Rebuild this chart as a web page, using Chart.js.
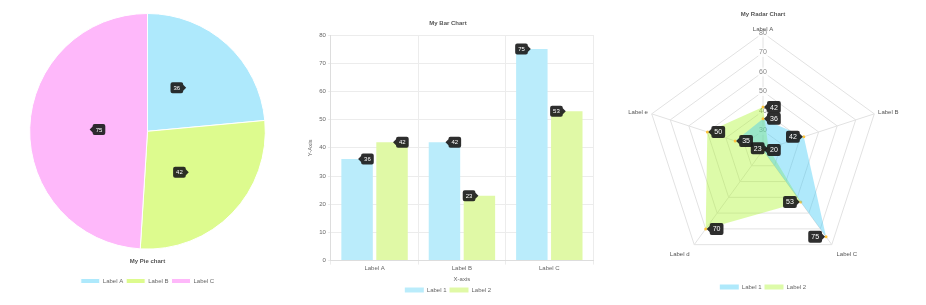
<!DOCTYPE html>
<html>
<head>
<meta charset="utf-8">
<script src="https://cdn.jsdelivr.net/npm/chart.js@4"></script>
<style>
  html, body { margin: 0; padding: 0; background: #fff; }
  body { width: 926px; height: 305px; position: relative; overflow: hidden; }
  .box { position: absolute; }
  .box canvas { display: block; }
</style>
</head>
<body>
<div class="box" id="pieBox" style="left:0;top:0;width:295px;height:294px;"><canvas id="pie"></canvas></div>
<div class="box" id="barBox" style="left:303px;top:0;width:294px;height:303px;"><canvas id="bar"></canvas></div>
<div class="box" id="radarBox" style="left:613px;top:0;width:300px;height:300px;"><canvas id="radar"></canvas></div>
<script>
// Pie chart data
const pieLabels = ['Label A', 'Label B', 'Label C'];
const pieValues = [36, 42, 75];

// Bar chart data
const barCategories = ['Label A', 'Label B', 'Label C'];
const barSeries1 = [36, 42, 75];
const barSeries2 = [42, 23, 53];

// Radar chart data
const radarAxes = ['Label A', 'Label B', 'Label C', 'Label d', 'Label e'];
const radarSeries1 = [36, 42, 75, 20, 35];
const radarSeries2 = [42, 23, 53, 70, 50];

const seriesNames = ['Label 1', 'Label 2'];

const FONT = '"Liberation Sans", Arial, sans-serif';
Chart.defaults.font.family = FONT;
Chart.defaults.font.size = 6;
Chart.defaults.color = '#666';
Chart.defaults.animation = false;

// Small dark value tags with a caret, placed like Chart.js tooltips
const valueTags = {
  id: 'valueTags',
  afterDatasetsDraw(chart, args, opts) {
    const ctx = chart.ctx;
    const area = chart.chartArea;
    const mid = (area.left + area.right) / 2;
    const fs = opts.fontSize || 6;
    const padX = opts.padX || 3;
    const h = opts.height || 11;
    const caret = opts.caret || 3;
    const gap = opts.gap || 1;
    const r = 2;
    ctx.save();
    ctx.font = fs + 'px ' + FONT;
    chart.data.datasets.forEach((ds, di) => {
      const meta = chart.getDatasetMeta(di);
      meta.data.forEach((el, i) => {
        const pos = el.tooltipPosition(true);
        const text = String(ds.data[i]);
        const w = ctx.measureText(text).width + padX * 2;
        const toRight = pos.x <= mid;
        const bx = toRight ? pos.x + gap + caret : pos.x - gap - caret - w;
        const by = pos.y - h / 2;
        ctx.fillStyle = 'rgba(28,28,28,0.92)';
        ctx.beginPath();
        ctx.moveTo(bx + r, by);
        ctx.lineTo(bx + w - r, by);
        ctx.quadraticCurveTo(bx + w, by, bx + w, by + r);
        if (!toRight) {
          ctx.lineTo(bx + w, pos.y - caret);
          ctx.lineTo(bx + w + caret, pos.y);
          ctx.lineTo(bx + w, pos.y + caret);
        }
        ctx.lineTo(bx + w, by + h - r);
        ctx.quadraticCurveTo(bx + w, by + h, bx + w - r, by + h);
        ctx.lineTo(bx + r, by + h);
        ctx.quadraticCurveTo(bx, by + h, bx, by + h - r);
        if (toRight) {
          ctx.lineTo(bx, pos.y + caret);
          ctx.lineTo(bx - caret, pos.y);
          ctx.lineTo(bx, pos.y - caret);
        }
        ctx.lineTo(bx, by + r);
        ctx.quadraticCurveTo(bx, by, bx + r, by);
        ctx.closePath();
        ctx.fill();
        ctx.fillStyle = '#fff';
        ctx.textAlign = 'center';
        ctx.textBaseline = 'middle';
        ctx.fillText(text, bx + w / 2, pos.y + 0.5);
      });
    });
    ctx.restore();
  }
};

// Axis names around the radar web, placed just outside each spoke
const radarAxisNames = {
  id: 'radarAxisNames',
  afterDraw(chart, args, opts) {
    const scale = chart.scales.r;
    const ctx = chart.ctx;
    const n = chart.data.labels.length;
    ctx.save();
    ctx.font = (opts.fontSize || 6) + 'px ' + FONT;
    ctx.fillStyle = opts.color || '#555';
    chart.data.labels.forEach((label, i) => {
      const deg = Math.round(i * 360 / n);
      let pad, align, base;
      if (deg === 0) { pad = 1; align = 'center'; base = 'bottom'; }
      else if (deg < 90 || deg > 270) { pad = 4; align = deg < 180 ? 'left' : 'right'; base = 'middle'; }
      else { pad = 8; align = deg < 180 ? 'left' : 'right'; base = 'top'; }
      const p = scale.getPointPosition(i, scale.drawingArea + pad);
      ctx.textAlign = align;
      ctx.textBaseline = base;
      ctx.fillText(label, p.x, p.y);
    });
    ctx.restore();
  }
};

const legendLabels = { boxWidth: 19, boxHeight: 5, padding: 3, font: { size: 6 }, color: '#666' };

// Pie
new Chart(document.getElementById('pie'), {
  type: 'pie',
  data: {
    labels: pieLabels,
    datasets: [{
      data: pieValues,
      backgroundColor: ['rgb(174,233,252)', 'rgb(221,251,142)', 'rgb(254,184,250)'],
      borderColor: '#fff',
      borderWidth: 1
    }]
  },
  plugins: [valueTags],
  options: {
    responsive: true,
    maintainAspectRatio: false,
    layout: { padding: { top: 13 } },
    plugins: {
      title: { display: true, text: 'My Pie chart', position: 'bottom', weight: 500,
               color: '#555', font: { size: 6, weight: 'bold' }, padding: { top: 8.4, bottom: 9.8 } },
      legend: { position: 'bottom', labels: legendLabels },
      tooltip: { enabled: false },
      valueTags: { fontSize: 6, height: 11 }
    }
  }
});

// Bar
new Chart(document.getElementById('bar'), {
  type: 'bar',
  data: {
    labels: barCategories,
    datasets: [
      { label: seriesNames[0], data: barSeries1, backgroundColor: 'rgb(186,236,251)' },
      { label: seriesNames[1], data: barSeries2, backgroundColor: 'rgb(224,249,166)' }
    ]
  },
  plugins: [valueTags],
  options: {
    responsive: true,
    maintainAspectRatio: false,
    layout: { padding: { top: 10, right: 4 } },
    scales: {
      x: {
        grid: { color: '#ececec', tickLength: 4 },
        border: { color: '#ddd' },
        ticks: { padding: 0, font: { size: 6 } },
        title: { display: true, text: 'X-axis', font: { size: 6 }, padding: { top: 4.2, bottom: 0.8 } }
      },
      y: {
        min: 0, max: 80,
        grid: { color: '#ececec', tickLength: 3 },
        border: { color: '#ddd' },
        ticks: { stepSize: 10, padding: 2, font: { size: 6 } },
        title: { display: true, text: 'Y-Axis', font: { size: 6 }, padding: { top: 3.5, bottom: 3.5 } }
      }
    },
    plugins: {
      title: { display: true, text: 'My Bar Chart', color: '#555', font: { size: 6, weight: 'bold' },
               padding: { top: 10, bottom: 7.8 } },
      legend: { position: 'bottom', labels: legendLabels },
      tooltip: { enabled: false },
      valueTags: { fontSize: 6, height: 11 }
    }
  }
});

// Radar
new Chart(document.getElementById('radar'), {
  type: 'radar',
  data: {
    labels: radarAxes,
    datasets: [
      { label: seriesNames[0], data: radarSeries1, backgroundColor: 'rgba(54,200,245,0.4)',
        borderWidth: 0, borderColor: 'rgba(0,0,0,0)', pointRadius: 1.5,
        pointBackgroundColor: 'rgb(255,196,60)', pointBorderWidth: 0 },
      { label: seriesNames[1], data: radarSeries2, backgroundColor: 'rgba(170,245,40,0.4)',
        borderWidth: 0, borderColor: 'rgba(0,0,0,0)', pointRadius: 1.5,
        pointBackgroundColor: 'rgb(255,196,60)', pointBorderWidth: 0 }
    ]
  },
  plugins: [valueTags, radarAxisNames],
  options: {
    responsive: true,
    maintainAspectRatio: false,
    scales: {
      r: {
        min: 20, max: 80,
        grid: { color: '#e2e2e2' },
        angleLines: { color: '#e2e2e2' },
        pointLabels: { display: false },
        ticks: { stepSize: 10, font: { size: 7 }, color: '#888', backdropPadding: 1 }
      }
    },
    plugins: {
      title: { display: true, text: 'My Radar Chart', color: '#555', font: { size: 6, weight: 'bold' },
               padding: { top: 10.4, bottom: 10.4 } },
      legend: { position: 'bottom', labels: legendLabels,
                title: { display: true, text: ' ', font: { size: 1 }, padding: { top: 7.8, bottom: 0 } } },
      tooltip: { enabled: false },
      valueTags: { fontSize: 7, height: 12 },
      radarAxisNames: { fontSize: 6, color: '#555' }
    }
  }
});
</script>
</body>
</html>
